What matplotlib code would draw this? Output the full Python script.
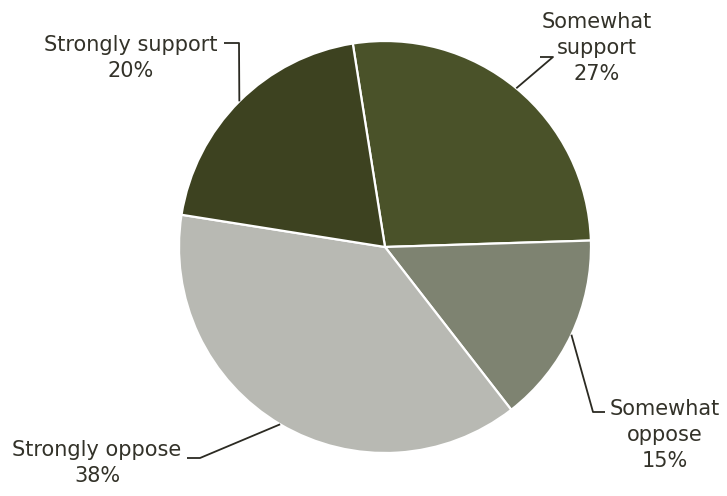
import numpy as np
import matplotlib
matplotlib.use("Agg")
import matplotlib.pyplot as plt

# survey answers, in the order they are drawn (clockwise from the top)
labels = ["Somewhat\nsupport", "Somewhat\noppose", "Strongly oppose", "Strongly support"]
shares = [27, 15, 38, 20]
colors = ["#4a5229", "#7e8371", "#b8b9b3", "#3d4220"]

W, H = 727, 496
CX, CY, R = 385, H - 247, 206

# label centres and knee points of the leader lines (pixel coords, y from top)
label_pos = [(597, 48), (665, 435), (97, 463), (131, 58)]
knees = [[(553, 57), (540, 57)], [(593, 412), (605, 412)],
         [(200, 458), (187, 458)], [(239, 43), (224, 43)]]

fig = plt.figure(figsize=(W / 100, H / 100), dpi=100)
ax = fig.add_axes([0, 0, 1, 1])

wedges, _ = ax.pie(shares, colors=colors, startangle=99, counterclock=False,
                   center=(CX, CY), radius=R, frame=True,
                   wedgeprops=dict(edgecolor="white", linewidth=1.6))
ax.set_xlim(0, W)
ax.set_ylim(0, H)
ax.set_aspect("equal")
ax.axis("off")

txt = "#333229"
for w, lab, val, (tx, ty), kn in zip(wedges, labels, shares, label_pos, knees):
    # leader line starts on the rim at the middle of the wedge
    mid = np.deg2rad((w.theta1 + w.theta2) / 2)
    x0, y0 = CX + R * np.cos(mid), CY + R * np.sin(mid)
    xs = [x0] + [k[0] for k in kn]
    ys = [y0] + [H - k[1] for k in kn]
    ax.plot(xs, ys, color="#2b2a22", lw=1.3, solid_capstyle="butt")
    ax.text(tx, H - ty, f"{lab}\n{val}%", ha="center", va="center",
            fontsize=15, color=txt, family="DejaVu Sans", linespacing=1.35)

fig.savefig("out.png", dpi=100)
